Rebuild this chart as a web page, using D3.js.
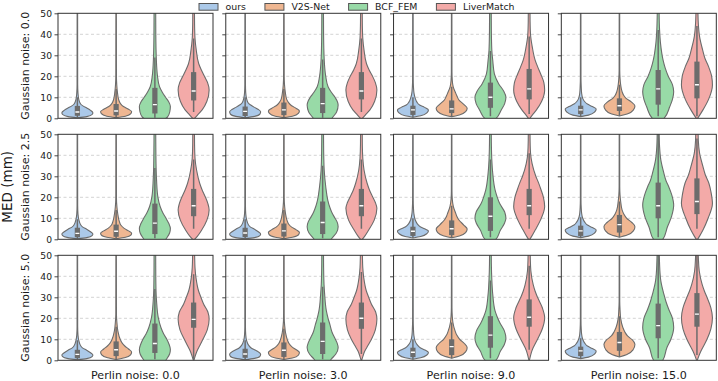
<!DOCTYPE html>
<html>
<head>
<meta charset="utf-8">
<script src="https://cdn.jsdelivr.net/npm/d3@7"></script>
<style>
  body { margin: 0; background: #fff; }
  svg { display: block; }
  text { font-family: "DejaVu Sans", sans-serif; fill: #1a1a1a; }
</style>
</head>
<body>
<script>
// categories / labels
const methods = ['ours', 'V2S-Net', 'BCF_FEM', 'LiverMatch'];
const gaussianLevels = ['0.0', '2.5', '5.0'];
const perlinLevels = ['0.0', '3.0', '9.0', '15.0'];
const yTicks = [0, 10, 20, 30, 40, 50];

// box summary per panel (row major: gaussian x perlin), per method: [low, q1, median, q3, high]
const boxStats = [
  [[0.3,1.2,3.0,5.9,10], [0.3,1.4,3.5,6.8,14], [0.3,2.3,6.5,14.5,29], [3,8.5,13,22,38]],
  [[0.3,1.1,3.3,5.6,10], [0.3,1.5,4,7.5,14], [0.3,2.5,7,14.5,28], [3,9,13,22,38]],
  [[0.5,1.6,4,6,10], [0.8,2.5,4.5,8.5,15], [1,5,10,17,32], [2,9,14,23.5,39]],
  [[0.8,2,4,6,10], [1.1,3.5,6,9.5,16], [1,6.5,14,23,42], [1,9.5,16,27,44]],
  [[0.2,1,2.8,5.5,9.5], [0.3,1.2,3.8,7,14], [0.5,2.5,7.7,17,34], [5,11,16,24,38]],
  [[0.2,1,3,5.5,9.5], [0.3,1.3,4,7.5,14], [0.5,2.5,8,18,35], [5,11,16,24,38]],
  [[0.6,1.6,3.8,6,10], [0.8,2,5,9,16], [1,4,11,20,38], [5,11.5,16,24,41]],
  [[0.8,1.6,4,6.5,10.5], [1,3.2,7,11.6,18], [1,10,16,27,55], [5,12,18,29,48]],
  [[0.2,1,2.8,5,9.5], [0.4,2,5,9,16], [0.5,3.5,8,17.5,34], [0.5,15.5,19.5,27.5,41]],
  [[0.2,1.2,3,5.5,9.5], [0.4,1.6,4.8,8.5,15], [0.5,3,9,18,35], [3,15,20,27.5,42]],
  [[0.5,1.5,3.8,6,10], [1,2.5,6.5,10,18], [1,6,12,21,38], [5,16,20.5,29,45]],
  [[0.8,2,4.5,6.5,10.5], [1.6,4.5,8.5,13.5,21], [1,10.5,16.5,27,55], [2.5,16,22,32,55]]
];

// violin outlines: [MED value, half width as share of the max]
const violins = [
  [ // gaussian 0.0, perlin 0.0
    [[0.2,0],[0.8,0.6],[1.8,0.95],[2.7,1],[3.8,0.85],[4.8,0.63],[5.8,0.38],[6.7,0.22],[9,0.09],[12,0.04],[16,0.02],[55,0.015]],
    [[0.3,0],[1,0.6],[2.2,0.95],[3.2,1],[4.3,0.8],[5.6,0.47],[7,0.28],[8.7,0.17],[12.7,0.08],[16,0.04],[20,0.02],[55,0.015]],
    [[-3,0],[-1,0.55],[0.5,0.8],[3,0.96],[5.6,1],[8,0.88],[10,0.69],[12.5,0.47],[15,0.3],[20,0.17],[29,0.09],[40,0.06],[55,0.05]],
    [[-0.5,0],[1.5,0.25],[4,0.55],[8,0.85],[13.5,1],[17,0.9],[20,0.7],[23,0.5],[26,0.33],[32.5,0.17],[38,0.09],[45,0.06],[55,0.05]]
  ],
  [ // gaussian 0.0, perlin 3.0
    [[0.2,0],[0.9,0.6],[2,0.95],[3.1,1],[4.2,0.85],[5.2,0.6],[6.3,0.36],[7.3,0.2],[9.5,0.09],[12,0.04],[16,0.02],[55,0.015]],
    [[0.3,0],[1,0.55],[2.3,0.93],[3.5,1],[4.7,0.8],[6,0.5],[7.5,0.3],[9,0.18],[12.5,0.09],[16,0.04],[20,0.02],[55,0.015]],
    [[-3,0],[-1,0.5],[0.5,0.65],[3,0.9],[6.3,1],[8.5,0.92],[10,0.8],[12.5,0.55],[15,0.35],[20,0.2],[28,0.1],[40,0.06],[55,0.05]],
    [[-0.5,0],[1.5,0.25],[4,0.55],[8,0.85],[13.5,1],[17,0.9],[20,0.72],[23,0.5],[26,0.33],[32.5,0.17],[38,0.09],[45,0.06],[55,0.05]]
  ],
  [ // gaussian 0.0, perlin 9.0
    [[0.5,0],[1.2,0.5],[2.6,0.9],[4,1],[5.2,0.75],[6.3,0.43],[7.8,0.25],[9.5,0.15],[12,0.07],[15,0.035],[19,0.02],[55,0.015]],
    [[0.8,0],[1.6,0.5],[3.2,0.9],[4.8,1],[6.5,0.8],[8.7,0.47],[10.5,0.35],[12,0.26],[15,0.1],[18,0.04],[22,0.02],[55,0.015]],
    [[-2,0],[0,0.37],[4,0.7],[7,0.92],[10,1],[13,0.85],[16.5,0.53],[21,0.26],[27.6,0.15],[32.5,0.09],[42,0.06],[55,0.05]],
    [[-0.5,0],[1.5,0.2],[4,0.47],[8,0.8],[13.5,1],[17,0.95],[21,0.75],[24.5,0.55],[27.6,0.39],[34,0.2],[39.7,0.09],[46,0.06],[55,0.05]]
  ],
  [ // gaussian 0.0, perlin 15.0
    [[0.8,0],[1.5,0.5],[3,0.9],[4.4,1],[5.6,0.75],[6.8,0.43],[8,0.25],[9.5,0.13],[12,0.06],[15,0.035],[19,0.02],[55,0.015]],
    [[1.1,0],[2,0.5],[4,0.9],[5.9,1],[7.7,0.78],[9.5,0.43],[11,0.27],[12.7,0.17],[15.9,0.08],[19,0.04],[23,0.02],[55,0.015]],
    [[-2,0],[0,0.38],[5.6,0.75],[9,0.92],[12.7,1],[16,0.92],[20,0.65],[24,0.45],[27.6,0.32],[35.7,0.15],[42,0.09],[50,0.06],[55,0.055]],
    [[-0.5,0],[1.5,0.18],[4,0.39],[9,0.75],[15.9,1],[20,0.95],[24.6,0.75],[28.5,0.52],[32.5,0.37],[38.9,0.17],[45,0.09],[50,0.065],[55,0.055]]
  ],
  [ // gaussian 2.5, perlin 0.0
    [[0.2,0],[0.8,0.6],[1.7,0.95],[2.5,1],[3.6,0.85],[4.8,0.6],[5.8,0.35],[6.8,0.22],[9.5,0.09],[12,0.04],[16,0.02],[55,0.015]],
    [[0.3,0],[1,0.6],[2,0.95],[2.9,1],[4,0.8],[5.2,0.52],[6.8,0.3],[8.4,0.21],[12.4,0.1],[15.5,0.05],[20,0.02],[55,0.015]],
    [[-3,0],[-1,0.6],[0.5,0.75],[3,0.95],[5.2,1],[7.5,0.9],[10,0.72],[12.5,0.52],[15.6,0.34],[20.3,0.19],[28,0.11],[34,0.08],[45,0.06],[55,0.05]],
    [[-0.5,0],[1.5,0.25],[4.4,0.52],[9,0.85],[14,1],[17,0.92],[20.3,0.75],[23.5,0.55],[26.7,0.39],[33,0.19],[38.6,0.09],[45,0.06],[55,0.05]]
  ],
  [ // gaussian 2.5, perlin 3.0
    [[0.2,0],[0.8,0.6],[1.7,0.95],[2.5,1],[3.6,0.85],[4.8,0.6],[5.8,0.35],[6.8,0.22],[9.5,0.09],[12,0.04],[16,0.02],[55,0.015]],
    [[0.3,0],[1,0.55],[2.2,0.95],[3.3,1],[4.5,0.8],[5.8,0.5],[7.3,0.3],[9,0.2],[12.5,0.1],[15.5,0.05],[20,0.02],[55,0.015]],
    [[-3,0],[-1,0.45],[0.5,0.6],[3,0.88],[6,1],[8.3,0.93],[10,0.8],[13,0.58],[15.5,0.45],[18.7,0.33],[25,0.2],[33,0.1],[42,0.065],[55,0.05]],
    [[-0.5,0],[1.5,0.22],[4.4,0.47],[9,0.82],[14.8,1],[17.5,0.9],[20.3,0.72],[23.5,0.52],[26.7,0.37],[33,0.17],[38.6,0.09],[45,0.06],[55,0.05]]
  ],
  [ // gaussian 2.5, perlin 9.0
    [[0.6,0],[1.3,0.5],[2.7,0.9],[4,1],[5,0.75],[6,0.47],[7.5,0.27],[9.2,0.15],[12.4,0.06],[15,0.035],[19,0.02],[55,0.015]],
    [[0.8,0],[1.6,0.5],[3.2,0.9],[4.9,1],[6.8,0.78],[9.2,0.47],[11,0.33],[12.4,0.26],[15.6,0.11],[19,0.04],[23,0.02],[55,0.015]],
    [[-2,0],[0,0.35],[4.4,0.65],[7.5,0.9],[10,1],[13,0.92],[17,0.6],[20.5,0.42],[23.5,0.3],[31.4,0.15],[37.8,0.09],[46,0.06],[55,0.05]],
    [[-0.5,0],[1.5,0.17],[4.4,0.39],[9,0.72],[15.6,1],[20,0.92],[23.5,0.77],[27,0.6],[30,0.43],[36,0.19],[41,0.09],[47,0.06],[55,0.05]]
  ],
  [ // gaussian 2.5, perlin 15.0
    [[0.8,0],[1.5,0.5],[3,0.9],[4.4,1],[5.6,0.75],[6.8,0.43],[8.3,0.25],[10,0.13],[12.5,0.06],[15,0.035],[19,0.02],[55,0.015]],
    [[1,0],[2,0.5],[4,0.9],[6,1],[8,0.8],[10,0.47],[12,0.28],[14,0.17],[18,0.08],[21,0.04],[25,0.02],[55,0.015]],
    [[-2,0],[0,0.3],[6,0.6],[10.8,0.86],[16.3,1],[21,0.88],[25,0.68],[28,0.5],[31.4,0.37],[37.8,0.17],[44,0.09],[50,0.065],[55,0.055]],
    [[-0.5,0],[1.5,0.17],[4.4,0.39],[10,0.72],[17,1],[22,0.92],[26.7,0.77],[30.5,0.55],[34.6,0.39],[41,0.17],[47,0.09],[55,0.065]]
  ],
  [ // gaussian 5.0, perlin 0.0
    [[0.2,0],[0.8,0.6],[1.7,0.95],[2.5,1],[3.6,0.85],[4.8,0.6],[5.8,0.35],[6.8,0.22],[9.5,0.09],[12,0.04],[16,0.02],[55,0.015]],
    [[0.4,0],[1.2,0.55],[2.6,0.93],[4,1],[5.4,0.8],[6.8,0.56],[8.4,0.37],[10,0.26],[14,0.11],[18,0.05],[22,0.02],[55,0.015]],
    [[-3,0],[-1,0.6],[0.5,0.75],[3,0.95],[5.2,1],[7.5,0.92],[10,0.77],[12.5,0.57],[15.6,0.39],[20.3,0.22],[28,0.11],[34,0.07],[45,0.055],[55,0.05]],
    [[-0.5,0],[2,0.1],[4.4,0.22],[7,0.4],[10,0.6],[14.5,0.88],[19.5,1],[23,0.92],[26.7,0.65],[30,0.47],[33,0.32],[39.4,0.15],[44,0.09],[50,0.065],[55,0.055]]
  ],
  [ // gaussian 5.0, perlin 3.0
    [[0.2,0],[0.9,0.6],[1.9,0.95],[2.9,1],[4,0.85],[5,0.6],[6,0.37],[7.2,0.22],[9.5,0.09],[12,0.04],[16,0.02],[55,0.015]],
    [[0.4,0],[1.1,0.55],[2.4,0.93],[3.7,1],[5,0.8],[6.4,0.52],[8,0.33],[9.6,0.23],[13,0.11],[16.5,0.05],[21,0.02],[55,0.015]],
    [[-3,0],[-1,0.4],[0.5,0.55],[3,0.85],[6,1],[8.3,0.93],[10,0.82],[13.5,0.6],[17,0.47],[20,0.35],[23.5,0.24],[31.4,0.13],[36,0.09],[45,0.06],[55,0.05]],
    [[-0.5,0],[2,0.1],[4.4,0.22],[7,0.42],[10,0.65],[14.5,0.9],[19.5,1],[23,0.92],[26.7,0.65],[30,0.47],[33,0.32],[39.4,0.15],[44,0.09],[50,0.065],[55,0.055]]
  ],
  [ // gaussian 5.0, perlin 9.0
    [[0.5,0],[1.2,0.5],[2.5,0.9],[3.7,1],[4.9,0.78],[6,0.47],[7.5,0.27],[9,0.15],[12,0.06],[15,0.035],[19,0.02],[55,0.015]],
    [[1,0],[2,0.5],[4,0.9],[6,1],[8,0.82],[10,0.52],[12,0.33],[14,0.22],[18,0.08],[21,0.04],[25,0.02],[55,0.015]],
    [[-2,0],[0,0.35],[4.4,0.65],[7.5,0.9],[10.5,1],[14,0.9],[18,0.6],[21,0.42],[23.5,0.3],[31.4,0.15],[38.6,0.09],[46,0.06],[55,0.05]],
    [[-0.5,0],[2,0.08],[4.4,0.17],[10,0.54],[15,0.85],[20.3,1],[25,0.85],[30,0.54],[33,0.38],[36,0.26],[42.5,0.11],[48,0.075],[55,0.06]]
  ],
  [ // gaussian 5.0, perlin 15.0
    [[0.8,0],[1.5,0.5],[3,0.9],[4.4,1],[5.6,0.75],[6.8,0.43],[8.3,0.25],[10,0.13],[12.5,0.06],[15,0.035],[19,0.02],[55,0.015]],
    [[1.6,0],[2.6,0.45],[5,0.88],[7.6,1],[9.8,0.82],[11.6,0.52],[13.5,0.35],[15.6,0.22],[20,0.08],[24,0.04],[28,0.02],[55,0.015]],
    [[-2,0],[0,0.3],[6,0.56],[10,0.82],[15.6,1],[20,0.92],[24.3,0.68],[28,0.5],[31.4,0.37],[37.8,0.17],[45.7,0.09],[55,0.065]],
    [[-0.5,0],[2,0.12],[4.4,0.26],[10,0.65],[15,0.9],[20.3,1],[25,0.9],[30,0.65],[33,0.48],[36,0.34],[42.5,0.15],[49,0.09],[55,0.065]]
  ]
];

// seaborn pastel, desaturated to 0.75 as the violins are drawn
const colors = ['#abc9e9', '#efb792', '#98daa7', '#f3aaa8'];
const lineColor = '#6c6c6c';

const W = 718, H = 381;
const marginLeft = 58, marginTop = 13.3;
const panelW = 155, panelH = 105;
const colStep = 167.77, rowStep = 121;

const svg = d3.select('body').append('svg')
    .attr('width', W)
    .attr('height', H);

const x = d3.scaleBand().domain(methods).range([0, panelW]).paddingInner(0).paddingOuter(0);
const y = d3.scaleLinear().domain([0, 50]).range([panelH, 0]);
const halfMax = x.bandwidth() * 0.8 / 2;

gaussianLevels.forEach((g, r) => {
    perlinLevels.forEach((p, c) => {
        const idx = r * perlinLevels.length + c;
        const panel = svg.append('g')
            .attr('transform', `translate(${marginLeft + c * colStep},${marginTop + r * rowStep})`);

        const clipId = `clip-${idx}`;
        panel.append('clipPath').attr('id', clipId)
            .append('rect').attr('width', panelW).attr('height', panelH);

        // dashed grid
        panel.append('g').selectAll('line')
            .data(yTicks.filter(t => t > 0 && t < 50))
            .join('line')
            .attr('x1', 0).attr('x2', panelW)
            .attr('y1', d => y(d)).attr('y2', d => y(d))
            .attr('stroke', '#c8c8c8')
            .attr('stroke-width', 0.8)
            .attr('stroke-dasharray', '3,2.5');

        const body = panel.append('g').attr('clip-path', `url(#${clipId})`);

        methods.forEach((m, k) => {
            const cx = x(m) + x.bandwidth() / 2;
            const area = d3.area()
                .curve(d3.curveMonotoneY)
                .y(d => y(d[0]))
                .x0(d => cx - halfMax * d[1])
                .x1(d => cx + halfMax * d[1]);

            body.append('path')
                .datum(violins[idx][k])
                .attr('d', area)
                .attr('fill', colors[k])
                .attr('stroke', lineColor)
                .attr('stroke-width', 1.1);

            const [lo, q1, med, q3, hi] = boxStats[idx][k];
            body.append('line')
                .attr('x1', cx).attr('x2', cx)
                .attr('y1', y(lo)).attr('y2', y(hi))
                .attr('stroke', lineColor)
                .attr('stroke-width', 1.5);
            body.append('rect')
                .attr('x', cx - 2.6).attr('width', 5.2)
                .attr('y', y(q3)).attr('height', y(q1) - y(q3))
                .attr('fill', lineColor);
            body.append('line')
                .attr('x1', cx - 2).attr('x2', cx + 2)
                .attr('y1', y(med)).attr('y2', y(med))
                .attr('stroke', '#fff')
                .attr('stroke-width', 1.4);
        });

        // left ticks
        const axis = panel.append('g')
            .call(d3.axisLeft(y).tickValues(yTicks).tickSize(3.5).tickPadding(2.5)
                .tickFormat(c === 0 ? d3.format('d') : () => ''));
        axis.select('.domain').remove();
        axis.selectAll('line').attr('stroke', '#333').attr('stroke-width', 0.9);
        axis.selectAll('text').style('font-size', '9.2px').attr('fill', '#1a1a1a');

        // frame
        panel.append('rect')
            .attr('width', panelW).attr('height', panelH)
            .attr('fill', 'none')
            .attr('stroke', '#333')
            .attr('stroke-width', 1);

        if (r === gaussianLevels.length - 1) {
            panel.append('text')
                .attr('x', panelW / 2).attr('y', panelH + 19.2)
                .attr('text-anchor', 'middle')
                .style('font-size', '11.1px')
                .text(`Perlin noise: ${p}`);
        }
        if (c === 0) {
            panel.append('text')
                .attr('transform', `translate(${28.5 - marginLeft},${panelH / 2}) rotate(-90)`)
                .attr('text-anchor', 'middle')
                .style('font-size', '11px')
                .text(`Gaussian noise: ${g}`);
        }
    });
});

// shared y label
svg.append('text')
    .attr('transform', `translate(11.5,${marginTop + (2 * rowStep + panelH) / 2}) rotate(-90)`)
    .attr('text-anchor', 'middle')
    .style('font-size', '13.5px')
    .text('MED (mm)');

// legend
const legend = svg.append('g').attr('transform', 'translate(199,0)');
let lx = 0;
methods.forEach((m, k) => {
    legend.append('rect')
        .attr('x', lx).attr('y', 3.5)
        .attr('width', 19).attr('height', 6.7)
        .attr('fill', colors[k])
        .attr('stroke', '#555')
        .attr('stroke-width', 1);
    const t = legend.append('text')
        .attr('x', lx + 26.5).attr('y', 10.3)
        .style('font-size', '9.4px')
        .text(m);
    lx += 26.5 + t.node().getComputedTextLength() + 19;
});
</script>
</body>
</html>
